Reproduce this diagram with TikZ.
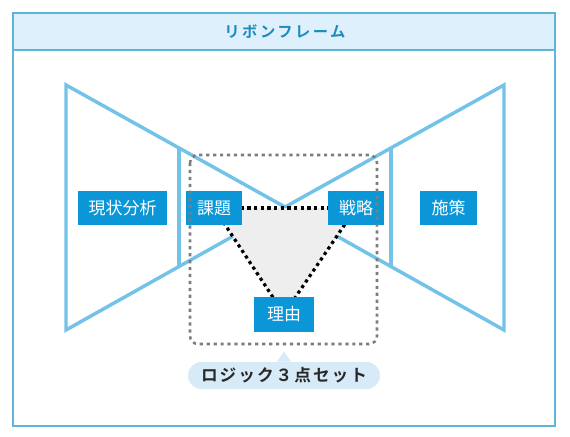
\documentclass[tikz,border=0pt]{standalone}
\usepackage{fontspec}
\newfontfamily\jp{Noto Sans CJK JP}
\newfontfamily\jptitle[LetterSpace=16,BoldFont={Noto Sans CJK JP Bold}]{Noto Sans CJK JP}
\newfontfamily\jpbub[LetterSpace=12,BoldFont={Noto Sans CJK JP Bold}]{Noto Sans CJK JP}
\pgfdeclarelayer{ribbonlayer}
\pgfdeclarelayer{trilayer}
\pgfsetlayers{ribbonlayer,trilayer,main}
\definecolor{framec}{RGB}{95,180,215}
\definecolor{headfill}{RGB}{222,240,251}
\definecolor{titlec}{RGB}{30,140,190}
\definecolor{ribbonc}{RGB}{115,195,232}
\definecolor{boxc}{RGB}{10,150,215}
\definecolor{trifill}{RGB}{238,238,238}
\definecolor{groupc}{RGB}{125,125,125}
\definecolor{bubfill}{RGB}{214,234,247}
\definecolor{bubtext}{RGB}{40,40,40}
\tikzset{
  bluebox/.style={fill=boxc, text=white, inner sep=0pt, minimum height=25.5pt,
    font=\jp\fontsize{12.75}{15}\selectfont},
  ribbonline/.style={draw=ribbonc, line width=2.6pt, line join=miter},
  logicline/.style={draw=black, line width=2.4pt, dash pattern=on 2.4pt off 2.6pt},
  groupline/.style={draw=groupc, line width=1.9pt, dash pattern=on 2.4pt off 2.8pt, rounded corners=6pt},
}
\begin{document}
\begin{tikzpicture}[x=0.75pt,y=-0.75pt]
\useasboundingbox (0,0) rectangle (570,436);
% frame and header
\fill[headfill] (13,13) rectangle (555,50);
\draw[framec, line width=1.1pt] (13,13) rectangle (555,426);
\draw[framec, line width=1.1pt] (13,50) -- (555,50);
\node (title) at (285,31.5) {\jptitle\bfseries\fontsize{11.5}{13}\selectfont\color{titlec}リボンフレーム};
% ribbon
\begin{pgfonlayer}{ribbonlayer}
\draw[ribbonline] (66,85) -- (285,207) -- (66,330) -- cycle;
\draw[ribbonline] (504,85) -- (285,207) -- (504,330) -- cycle;
\draw[ribbonline] (179,148.5) -- (179,266);
\draw[ribbonline] (391,148.5) -- (391,266);
\end{pgfonlayer}
% boxes
\node[bluebox, minimum width=66.75pt] (genjo) at (122.5,208) {現状分析};
\node[bluebox, minimum width=42pt] (kadai) at (214,208) {課題};
\node[bluebox, minimum width=42pt] (senryaku) at (356,208) {戦略};
\node[bluebox, minimum width=42.75pt] (shisaku) at (448.5,208) {施策};
\node[bluebox, minimum width=45pt, minimum height=26.25pt] (riyu) at (284,314) {理由};
% logic triangle
\begin{pgfonlayer}{trilayer}
\fill[trifill] (kadai.center) -- (senryaku.center) -- (riyu.center) -- cycle;
\draw[logicline] (kadai.center) -- (senryaku.center);
\draw[logicline] (senryaku.center) -- (riyu.center);
\draw[logicline] (riyu.center) -- (kadai.center);
\end{pgfonlayer}
% group outline
\draw[groupline] (190,155) rectangle (377,344);
% bubble
\node[fill=bubfill, rounded corners=10pt, minimum width=144pt, minimum height=20.25pt, inner sep=0pt,
  text=bubtext, font=\jpbub\bfseries\fontsize{12.5}{14}\selectfont] (bubble) at (284,375.5) {ロジック３点セット};
\fill[bubfill] ([xshift=-5.5pt]bubble.north) -- ([yshift=7.5pt]bubble.north) -- ([xshift=5.5pt]bubble.north) -- cycle;
\end{tikzpicture}
\end{document}
